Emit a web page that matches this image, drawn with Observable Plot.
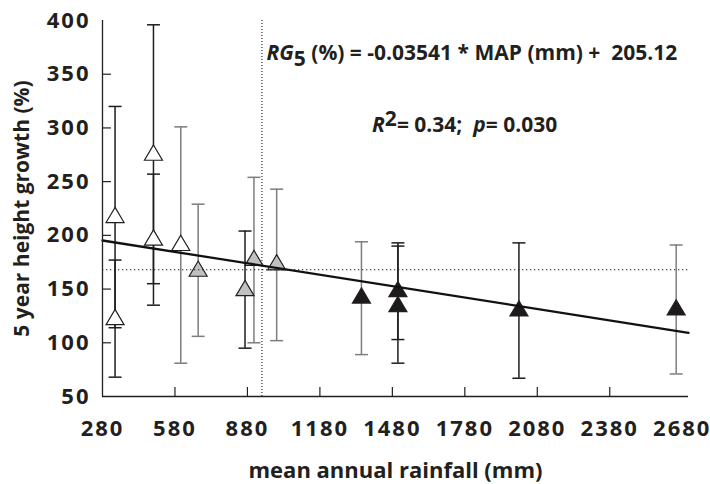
<!DOCTYPE html>
<html>
<head>
<meta charset="utf-8">
<script src="https://cdn.jsdelivr.net/npm/d3@7"></script>
<script src="https://cdn.jsdelivr.net/npm/@observablehq/plot@0.6"></script>
<style>
  html, body { margin: 0; padding: 0; background: white; }
  #chart { width: 710px; height: 484px; }
</style>
</head>
<body>
<div id="chart"></div>
<script>
// ---- data ----
const rainfall = [332, 332, 491, 491, 604, 676, 870, 907, 1001, 1352, 1503, 1503, 2004, 2655];
const growth   = [219, 124, 277, 198, 193, 169, 151, 179, 175, 144, 150, 136, 132, 133];
const upper    = [320, 177, 396, 257, 301, 229, 204, 254, 243, 194, 193, 190, 193, 191];
const lower    = [114,  68, 155, 135,  81, 106,  95, 100, 102,  89, 103,  81,  67,  71];
const markerGroup = ["open","open","open","open","open","grey","grey","grey","grey","solid","solid","solid","solid","solid"];
const barTone  = ["dark","dark","dark","dark","light","light","dark","light","light","light","dark","dark","dark","light"];

const xTickLabels = [280, 580, 880, 1180, 1480, 1780, 2080, 2380, 2680];
const xTickMarks  = [580, 880, 1180, 1480, 1780, 2080, 2380];
const yTickLabels = [50, 100, 150, 200, 250, 300, 350, 400];
const yTickMarks  = [100, 150, 200, 250, 300, 350];

const slope = -0.03541, intercept = 205.12;
const meanRainfall = 940, meanGrowth = 168;
const xDomain = [280, 2706], yDomain = [50, 400];

const eqText = "RG5 (%) = -0.03541 * MAP (mm) +  205.12";
const statText = "R2= 0.34;  p= 0.030";

// ---- build ----
const points = rainfall.map((x, i) => ({x, y: growth[i], hi: upper[i], lo: lower[i], group: markerGroup[i], tone: barTone[i]}));
const fitLine = xDomain.map(x => ({x, y: slope * x + intercept}));

const fillOf = {open: "white", grey: "#c0c0c0", solid: "#1c1a1b"};
const toneOf = {dark: "#1f1d1e", light: "#7d7d7d"};

const triangle = {draw(ctx) { const w = 9, h = 7.6; ctx.moveTo(0, -h); ctx.lineTo(w, h); ctx.lineTo(-w, h); ctx.closePath(); }};
const cap = {draw(ctx) { ctx.moveTo(-6.5, 0); ctx.lineTo(6.5, 0); }};

const ink = "#231f20";
const FS = 22;
const plot = Plot.plot({
  width: 710, height: 484,
  marginLeft: 102, marginRight: 22, marginTop: 20, marginBottom: 88,
  style: {fontFamily: "'Open Sans', Lato, sans-serif", fontWeight: "bold", fontSize: FS + "px", color: ink, background: "white"},
  x: {domain: xDomain},
  y: {domain: yDomain},
  marks: [
    Plot.axisX({ticks: xTickLabels, tickSize: 0, tickPadding: 24, tickFormat: d3.format("d"), label: null, fontSize: FS, fill: ink}),
    Plot.axisY({ticks: yTickLabels, tickSize: 0, tickPadding: 12, tickFormat: d3.format("d"), label: null, fontSize: FS, fill: ink}),
    Plot.ruleX(xTickMarks, {y1: 50, y2: 58.4, stroke: ink, strokeWidth: 1.2}),
    Plot.ruleY(yTickMarks, {x1: 280, x2: 317, stroke: ink, strokeWidth: 1.2}),
    // error bars
    Plot.ruleX(points, {x: "x", y1: "lo", y2: "hi", stroke: d => toneOf[d.tone], strokeWidth: 1.5}),
    Plot.dot(points, {x: "x", y: "hi", symbol: cap, stroke: d => toneOf[d.tone], strokeWidth: 1.5, fill: "none"}),
    Plot.dot(points, {x: "x", y: "lo", symbol: cap, stroke: d => toneOf[d.tone], strokeWidth: 1.5, fill: "none"}),
    // markers
    Plot.dot(points, {x: "x", y: "y", symbol: triangle, fill: d => fillOf[d.group], stroke: ink, strokeWidth: 1.2}),
    // mean reference lines
    Plot.ruleY([meanGrowth], {x1: xDomain[0], x2: xDomain[1], stroke: ink, strokeWidth: 1.2, strokeDasharray: "1.3,2.7"}),
    Plot.ruleX([meanRainfall], {y1: yDomain[0], y2: yDomain[1], stroke: ink, strokeWidth: 1.1, strokeDasharray: "1.1,1.9"}),
    // regression line
    Plot.line(fitLine, {x: "x", y: "y", stroke: "#111", strokeWidth: 2.3}),
    // axes lines
    Plot.ruleY([yDomain[0]], {x1: xDomain[0], x2: xDomain[1], stroke: ink, strokeWidth: 1.3}),
    Plot.ruleX([xDomain[0]], {y1: yDomain[0], y2: yDomain[1], stroke: ink, strokeWidth: 1.3}),
    // annotations
    Plot.text([eqText], {x: 959, y: 363, text: d => d, textAnchor: "start", lineAnchor: "bottom", fill: ink, fontSize: 21}),
    Plot.text([statText], {x: 1396, y: 296, text: d => d, textAnchor: "start", lineAnchor: "bottom", fill: ink, fontSize: 21}),
    // axis titles
    Plot.text(["mean annual rainfall (mm)"], {frameAnchor: "bottom", dy: 74, text: d => d, textAnchor: "middle", lineAnchor: "middle", fill: ink, fontSize: 22}),
    Plot.text(["5 year height growth (%)"], {frameAnchor: "left", dx: -80, rotate: -90, text: d => d, textAnchor: "middle", lineAnchor: "middle", fill: ink, fontSize: 21})
  ]
});
document.getElementById("chart").appendChild(plot);

const svg = d3.select(plot);
// wider digit spacing on tick labels, as in the reference
svg.selectAll("g[aria-label$='tick label'] text").style("letter-spacing", "2px");

// rich-text formatting for the annotations (italic, sub/superscript)
function rebuild(str, parts) {
  svg.selectAll("text").filter(function () { return this.textContent === str; }).each(function () {
    const t = d3.select(this);
    t.text(null).style("white-space", "pre");
    for (const p of parts) {
      const s = t.append("tspan").text(p.t);
      if (p.i) s.attr("font-style", "italic");
      if (p.dy) s.attr("dy", p.dy);
    }
  });
}
rebuild(eqText, [
  {t: "RG", i: true}, {t: "5", dy: 6}, {t: " (%) = -0.03541 * MAP (mm) +  205.12", dy: -6}
]);
rebuild(statText, [
  {t: "R", i: true}, {t: "2", dy: -6}, {t: "= 0.34;  ", dy: 6}, {t: "p", i: true}, {t: "= 0.030"}
]);
</script>
</body>
</html>
